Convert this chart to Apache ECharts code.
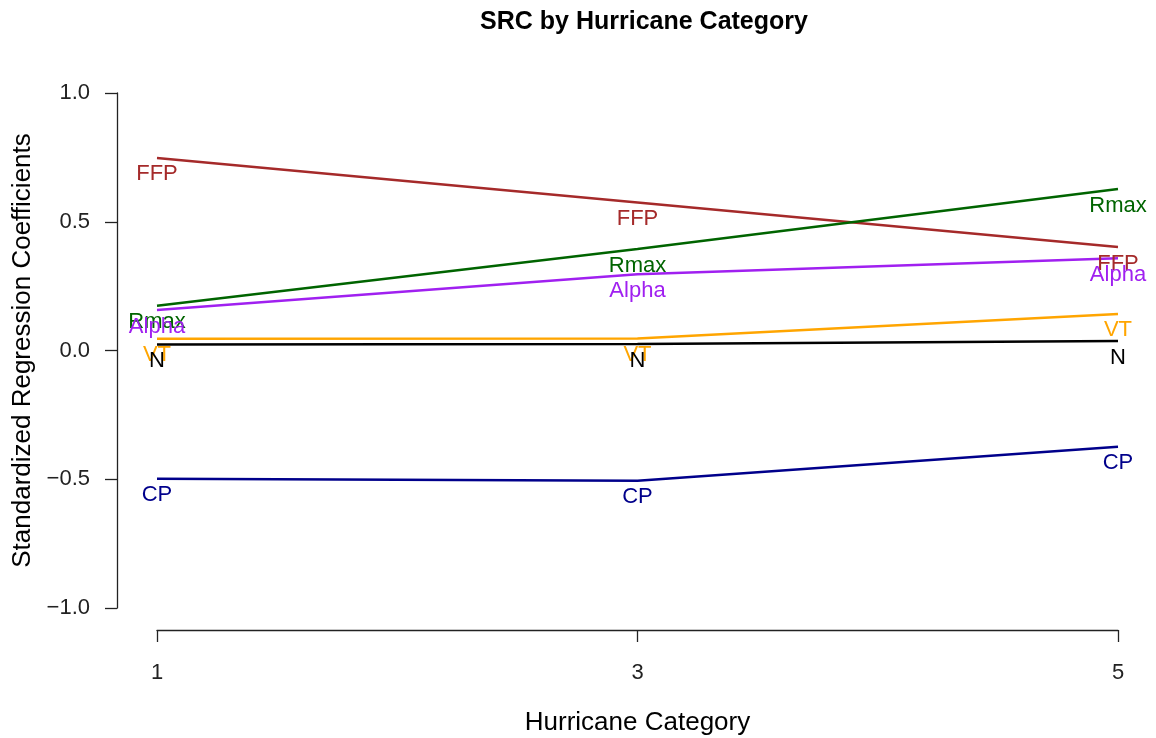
<!DOCTYPE html>
<html>
<head>
<meta charset="utf-8">
<title>SRC by Hurricane Category</title>
<script src="https://cdn.jsdelivr.net/npm/echarts@6/dist/echarts.min.js"></script>
<style>
  html, body { margin: 0; padding: 0; background: #ffffff; }
  #chart { width: 1156px; height: 738px; }
</style>
</head>
<body>
<div id="chart"></div>
<script>
// Hurricane categories on the x axis
const categories = [1, 3, 5];

// Standardized regression coefficients per parameter
const FFP   = [0.748, 0.575, 0.402];
const Rmax  = [0.174, 0.394, 0.627];
const Alpha = [0.157, 0.296, 0.358];
const VT    = [0.046, 0.047, 0.142];
const N     = [0.023, 0.025, 0.037];
const CP    = [-0.498, -0.506, -0.374];

// Axis ticks
const xTicks = [1, 3, 5];
const yTicks = [-1, -0.5, 0, 0.5, 1];

const seriesDefs = [
  { name: 'VT',    values: VT,    color: '#FFA500' },
  { name: 'N',     values: N,     color: '#000000' },
  { name: 'CP',    values: CP,    color: '#00008B' },
  { name: 'FFP',   values: FFP,   color: '#A52A2A' },
  { name: 'Rmax',  values: Rmax,  color: '#006400' },
  { name: 'Alpha', values: Alpha, color: '#A020F0' }
];

const FONT = '"Liberation Sans", Arial, Helvetica, sans-serif';

const chart = echarts.init(document.getElementById('chart'), null, { renderer: 'canvas' });

const series = seriesDefs.map(function (s) {
  return {
    name: s.name,
    type: 'line',
    data: categories.map(function (c, i) { return [c, s.values[i]]; }),
    symbol: 'circle',
    symbolSize: 1,
    showSymbol: true,
    itemStyle: { color: 'rgba(0,0,0,0)' },
    lineStyle: { color: s.color, width: 2.5 },
    clip: false,
    animation: false,
    label: {
      show: true,
      position: 'bottom',
      distance: 5,
      formatter: s.name,
      color: s.color,
      fontFamily: FONT,
      fontSize: 22
    },
    labelLayout: { hideOverlap: false },
    emphasis: { disabled: true }
  };
});

chart.setOption({
  backgroundColor: '#ffffff',
  animation: false,
  title: {
    text: 'SRC by Hurricane Category',
    left: 639,
    top: 5,
    textAlign: 'center',
    textStyle: { fontFamily: FONT, fontWeight: 'bold', fontSize: 25, color: '#000' }
  },
  grid: {
    left: 157, right: 38, top: 93, bottom: 130,
    containLabel: false,
    outerBoundsMode: 'none'
  },
  xAxis: {
    type: 'value',
    min: 1,
    max: 5,
    interval: 2,
    offset: 22,
    name: 'Hurricane Category',
    nameLocation: 'middle',
    nameGap: 80,
    nameTextStyle: { fontFamily: FONT, fontSize: 26, color: '#000' },
    axisLine: { show: true, onZero: false, lineStyle: { color: '#222', width: 1.3 } },
    axisTick: { show: true, length: 12, lineStyle: { color: '#222', width: 1.3 } },
    axisLabel: {
      margin: 32,
      fontFamily: FONT,
      fontSize: 22,
      color: '#222',
      formatter: function (v) { return xTicks.indexOf(v) >= 0 ? String(v) : ''; }
    },
    splitLine: { show: false }
  },
  yAxis: {
    type: 'value',
    min: -1,
    max: 1,
    interval: 0.5,
    offset: 40,
    name: 'Standardized Regression Coefficients',
    nameLocation: 'middle',
    nameGap: 81,
    nameRotate: 90,
    nameTextStyle: { fontFamily: FONT, fontSize: 26, color: '#000' },
    axisLine: { show: true, onZero: false, lineStyle: { color: '#222', width: 1.3 } },
    axisTick: { show: true, length: 12, lineStyle: { color: '#222', width: 1.3 } },
    axisLabel: {
      margin: 27,
      fontFamily: FONT,
      fontSize: 22,
      color: '#222',
      formatter: function (v) {
        if (yTicks.indexOf(v) < 0) return '';
        return v.toFixed(1).replace('-', '\u2212');
      }
    },
    splitLine: { show: false }
  },
  series: series
});
</script>
</body>
</html>
